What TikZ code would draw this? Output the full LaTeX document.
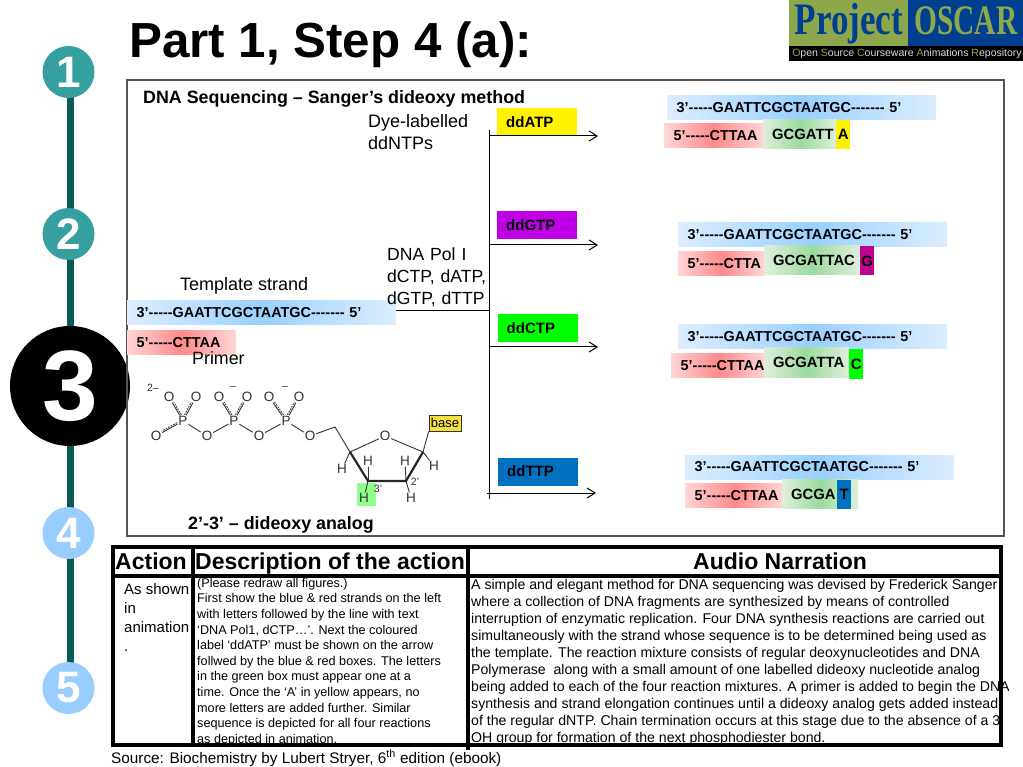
\documentclass[tikz,border=0pt]{standalone}
\usepackage{fontspec}
\setmainfont{Liberation Sans}[Ligatures=TeXOff]
\newfontfamily\logofont{Liberation Serif}
\usetikzlibrary{arrows.meta,backgrounds}
\definecolor{railcol}{HTML}{0B5A58}
\definecolor{tealcol}{HTML}{36A0A0}
\definecolor{skycol}{HTML}{99CCFF}
\definecolor{frameedge}{HTML}{555555}
\definecolor{bluemid}{HTML}{99D0FF}
\definecolor{blueedge}{HTML}{DCEEFF}
\definecolor{redmid}{HTML}{FF8A8A}
\definecolor{rededge}{HTML}{FFD6D6}
\definecolor{greenmid}{HTML}{9ADB9E}
\definecolor{greenedge}{HTML}{E0EEDC}
\definecolor{ddgcol}{HTML}{BF00E6}
\definecolor{ddtcol}{HTML}{0070C0}
\definecolor{termgcol}{HTML}{C0008F}
\definecolor{logogreen}{HTML}{8CA84A}
\definecolor{logoblue}{HTML}{003F8F}
\definecolor{atomgray}{HTML}{333333}
\definecolor{basecol}{HTML}{F8E040}
\newcommand{\fsz}[1]{\fontsize{#1}{#1}\selectfont}
\newcommand{\dblbond}[4]{%
  \draw[bond] (#1) -- (#2);
  \draw[bond,dash pattern=on 1.6pt off 1.2pt,transform canvas={xshift=#3pt,yshift=#4pt}] (#1) -- (#2);}
\tikzset{
  stepmark/.style={circle,fill=#1,text=white,font=\fsz{44}\bfseries,inner sep=0pt,minimum size=52pt},
  lbl/.style={inner sep=0pt,anchor=base west},
  plainlbl/.style={lbl,font=\fsz{18}},
  headlbl/.style={lbl,font=\fsz{17.85}\bfseries},
  ddbox/.style={fill=#1,anchor=west,minimum width=80pt,minimum height=28pt,inner sep=0pt,
    text width=62pt,align=left,font=\fsz{15}\bfseries},
  bluebar/.style={anchor=west,left color=blueedge,right color=blueedge,middle color=bluemid,
    inner xsep=9.5pt,inner ysep=0pt,text width=250pt,minimum height=24pt,align=left,font=\fsz{14.4}\bfseries},
  redbar/.style={anchor=west,left color=rededge,right color=rededge,middle color=redmid,
    inner xsep=9.5pt,inner ysep=0pt,text width=#1,minimum height=24pt,align=left,font=\fsz{14.4}\bfseries},
  greenbar/.style={anchor=west,left color=greenedge,right color=greenedge,middle color=greenmid,
    inner xsep=9pt,inner ysep=0pt,text width=#1,minimum height=29pt,align=left,font=\fsz{14.8}\bfseries},
  termbox/.style={fill=#1,anchor=west,minimum width=14pt,minimum height=29pt,inner sep=0pt,font=\fsz{15}\bfseries},
  flow/.style={line width=1pt,-{Straight Barb[length=8pt,width=10pt]}},
  rule/.style={line width=1pt},
  tbl/.style={line width=3.6pt},
  atom/.style={inner sep=0.6pt,text=atomgray,font=\fsz{13.5}},
  tinyatom/.style={inner sep=0pt,text=atomgray,font=\fsz{10.5}},
  bond/.style={line width=0.9pt,draw=atomgray,shorten >=0.2pt,shorten <=0.2pt},
  ringbond/.style={line width=2.2pt,draw=black!85}
}
\begin{document}
\begin{tikzpicture}[x=1pt,y=-1pt]
  \useasboundingbox (0,0) rectangle (1023,767);

  % side rail
  \node[stepmark=tealcol] (stepA) at (68.5,72) {1};
  \node[stepmark=tealcol] (stepB) at (68.5,234) {2};
  \node[circle,fill=black,text=white,font=\fsz{100}\bfseries,inner sep=0pt,minimum size=120pt] (stepC) at (70,386) {3};
  \node[stepmark=skycol] (stepD) at (68.5,533) {4};
  \node[stepmark=skycol] (stepE) at (68.5,688) {5};
  \begin{pgfonlayer}{background}
    \fill[white] (0,0) rectangle (1023,767);
    \draw[line width=7pt,railcol] ([xshift=2pt]stepA.center) -- ([xshift=2pt]stepE.center);
  \end{pgfonlayer}

  \node[lbl,font=\fsz{49.3}\bfseries] (title) at (129,58) {Part 1, Step 4 (a):};

  % logo
  \fill[logogreen] (789,0) rectangle (908,46);
  \fill[logoblue] (908,0) rectangle (1023,46);
  \fill[black] (789,46) rectangle (1023,61);
  \node[inner sep=0pt,anchor=base,text=logoblue,xscale=0.78,font=\logofont\fsz{45}\bfseries] (logoL) at (849,35) {Project};
  \node[inner sep=0pt,anchor=base,text=logogreen,xscale=0.70,font=\logofont\fsz{42}\bfseries] (logoR) at (966,35) {OSCAR};
  \node[inner sep=0pt,text=white!85!black,font=\fsz{10.5}] (logoS) at (907,54)
    {\textcolor{logogreen}{O}pen \textcolor{logogreen}{S}ource \textcolor{logogreen}{C}ourseware \textcolor{logogreen}{A}nimations \textcolor{logogreen}{R}epository};

  % main panel
  \draw[line width=1.2pt,frameedge] (127,80) rectangle (1004,536);
  \node[headlbl] (heading) at (143,104) {DNA Sequencing – Sanger’s dideoxy method};
  \node[plainlbl,anchor=north west,align=left,text width=110pt,font=\fsz{18}] (dyelbl) at (368,114)
    {Dye-labelled\\[4.5pt]ddNTPs};

  % left strands
  \node[bluebar] (tmpl) at (127,312.5) {\mbox{3’-----GAATTCGCTAATGC------- 5’}};
  \node[redbar=90pt] (prim) at (127,342.5) {\mbox{5’-----CTTAA}};
  \node[plainlbl,anchor=north west,align=left,text width=110pt,font=\fsz{17.6}] (pollbl) at (387,248)
    {DNA Pol I\\[4.4pt]dCTP, dATP,\\[4.4pt]dGTP, dTTP};
  \node[plainlbl] (tmpllbl) at (180,291) {Template strand};
  \node[plainlbl,font=\fsz{17.8}] (primlbl) at (192,365) {Primer};

  % trunk and branches
  \node[ddbox=yellow] (ddA) at (497,122) {ddATP};
  \node[ddbox=ddgcol] (ddG) at (497,225) {ddGTP};
  \node[ddbox=green] (ddC) at (497.5,328) {ddCTP};
  \node[ddbox=ddtcol] (ddT) at (498,471.5) {ddTTP};
  \coordinate (trunkT) at (489.5,130);
  \coordinate (trunkB) at (489.5,499);
  \draw[rule] (trunkT) -- (trunkB);
  \draw[rule] (tmpl.east) ++(0,-1.5) coordinate (tmplR) -- (tmplR -| trunkT);
  \foreach \nm/\xa/\xb/\yy in {a/489/598/136,g/489/598/245,c/489/598/347,t/487/596/493} {
    \coordinate (from\nm) at (\xa,\yy);
    \coordinate (to\nm) at (\xb,\yy);
    \draw[flow] (from\nm) -- (to\nm);
  }

  % ddATP row
  \node[bluebar] (blueA) at (667,107.5) {\mbox{3’-----GAATTCGCTAATGC------- 5’}};
  \node[redbar=80pt] (redA) at (664,135.5) {\mbox{5’-----CTTAA}};
  \node[greenbar=56pt] (grnA) at (763,134.5) {\mbox{GCGATT}};
  \node[termbox=yellow] (endA) at (836,134.5) {A};
  % ddGTP row
  \node[bluebar] (blueG) at (678,235) {\mbox{3’-----GAATTCGCTAATGC------- 5’}};
  \node[redbar=68pt] (redG) at (678,263.5) {\mbox{5’-----CTTA}};
  \node[greenbar=78pt] (grnG) at (764,260) {\mbox{GCGATTAC}};
  \node[termbox=termgcol] (endG) at (860,261) {G};
  % ddCTP row
  \node[bluebar] (blueC) at (678,336.5) {\mbox{3’-----GAATTCGCTAATGC------- 5’}};
  \node[redbar=75pt] (redC) at (671,365.5) {\mbox{5’-----CTTAA}};
  \node[greenbar=67pt] (grnC) at (764,362.5) {\mbox{GCGATTA}};
  \node[termbox=green] (endC) at (849,364) {C};
  % ddTTP row
  \node[bluebar] (blueT) at (685,467) {\mbox{3’-----GAATTCGCTAATGC------- 5’}};
  \node[redbar=79pt] (redT) at (685,495.5) {\mbox{5’-----CTTAA}};
  \node[greenbar=58pt] (grnT) at (782,494) {\mbox{GCGA}};
  \node[termbox=ddtcol] (endT) at (837,494) {T};

  % dideoxy analog
  \fill[green!45] (357,483) rectangle (376,506);
  \foreach \nm/\xx/\yy/\tt in {Pa/183/421/P,Pb/234/421/P,Pc/286/421/P,
      Oa/169/397/O,Ob/196/397/O,Oc/156/436/O,Od/219/397/O,Oe/247/397/O,Of/269/397/O,Og/299/397/O,
      Oh/207/436/O,Oi/259/436/O,Oj/310/436/O,Ok/385/436/O,
      Ha/342/469/H,Hb/368/461/H,Hc/405/461/H,Hd/434/466/H,He/411/498/H,Hf/364/498/H} {
    \node[atom] (\nm) at (\xx,\yy) {\tt};
  }
  \coordinate (Cme) at (335,427);
  \coordinate (Cfour) at (350,452);
  \coordinate (Cone) at (423,452);
  \coordinate (Ctwo) at (406,481);
  \coordinate (Cthree) at (368,481);
  \node[tinyatom] (chg) at (153,388) {2–};
  \node[tinyatom] (chgb) at (233,388) {–};
  \node[tinyatom] (chgc) at (285,388) {–};
  \node[tinyatom] (primeB) at (378,489) {3’};
  \node[tinyatom] (primeA) at (415,482) {2’};
  \node[draw=black!80,fill=basecol,inner sep=1pt,minimum width=32pt,minimum height=16pt,font=\fsz{13}] (base) at (445,423) {base};
  \dblbond{Pa}{Oa}{1.5}{0.6}
  \dblbond{Pa}{Ob}{-1.5}{0.6}
  \dblbond{Pa}{Oc}{-0.5}{1.4}
  \dblbond{Pb}{Od}{1.5}{0.6}
  \dblbond{Pb}{Oe}{-1.5}{0.6}
  \dblbond{Pc}{Of}{1.5}{0.6}
  \dblbond{Pc}{Og}{-1.5}{0.6}
  \draw[bond] (Pa) -- (Oh);
  \draw[bond] (Oh) -- (Pb);
  \draw[bond] (Pb) -- (Oi);
  \draw[bond] (Oi) -- (Pc);
  \draw[bond] (Pc) -- (Oj);
  \draw[bond] (Oj) -- (Cme) -- (Cfour) -- (Ok) -- (Cone) -- (base.south west);
  \draw[ringbond] (Cfour) -- (Cthree) -- (Ctwo) -- (Cone);
  \draw[bond] (Cfour) -- (Ha);
  \draw[bond] (Cthree) -- (Hb);
  \draw[bond] (Ctwo) -- (Hc);
  \draw[bond] (Cone) -- (Hd);
  \draw[bond] (Ctwo) -- (He);
  \draw[bond] (Cthree) -- (Hf);
  \node[headlbl] (analog) at (188,529) {2’-3’ – dideoxy analog};

  % table
  \draw[tbl] (113,547) rectangle (1001,745);
  \draw[tbl] (113,576) -- (1001,576);
  \draw[tbl] (193,547) -- (193,745);
  \draw[tbl] (468,547) -- (468,750);
  \node[lbl,font=\fsz{23}\bfseries] (hAct) at (115,569) {Action};
  \node[lbl,font=\fsz{23}\bfseries] (hDesc) at (195,569) {Description of the action};
  \node[lbl,font=\fsz{23}\bfseries] (hAud) at (693,569) {Audio Narration};
  \node[anchor=north west,inner sep=0pt,align=left,font=\fontsize{15}{19}\selectfont] (actTxt) at (124,583)
    {As shown\\in\\animation\\.};
  \node[anchor=north west,inner sep=0pt,align=left,font=\fontsize{12.65}{15.6}\selectfont] (descTxt) at (197,578)
    {(Please redraw all figures.)\\
     First show the blue \& red strands on the left\\
     with letters followed by the line with text\\
     ‘DNA Pol1, dCTP…’. Next the coloured\\
     label ‘ddATP’ must be shown on the arrow\\
     follwed by the blue \& red boxes. The letters\\
     in the green box must appear one at a\\
     time. Once the ‘A’ in yellow appears, no\\
     more letters are added further. Similar\\
     sequence is depicted for all four reactions\\
     as depicted in animation.};
  \node[anchor=north west,inner sep=0pt,align=left,font=\fontsize{14.13}{17}\selectfont] (audTxt) at (471,579)
    {A simple and elegant method for DNA sequencing was devised by Frederick Sanger\\
     where a collection of DNA fragments are synthesized by means of controlled\\
     interruption of enzymatic replication. Four DNA synthesis reactions are carried out\\
     simultaneously with the strand whose sequence is to be determined being used as\\
     the template. The reaction mixture consists of regular deoxynucleotides and DNA\\
     Polymerase\ \ along with a small amount of one labelled dideoxy nucleotide analog\\
     being added to each of the four reaction mixtures. A primer is added to begin the DNA\\
     synthesis and strand elongation continues until a dideoxy analog gets added instead\\
     of the regular dNTP. Chain termination occurs at this stage due to the absence of a 3’\\
     OH group for formation of the next phosphodiester bond.};
  \node[lbl,font=\fsz{15.3}] (srcTxt) at (111,763) {Source: Biochemistry by Lubert Stryer, 6\textsuperscript{th} edition (ebook)};
\end{tikzpicture}
\end{document}
